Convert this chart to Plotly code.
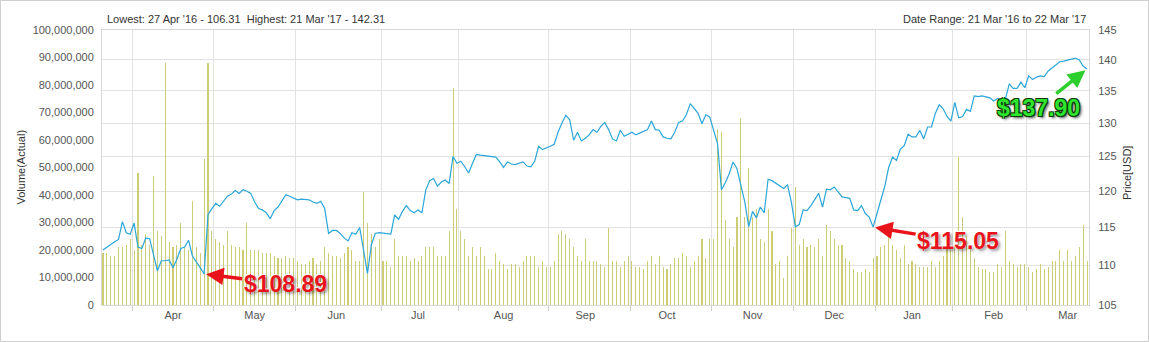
import math
import pandas as pd
import plotly.graph_objects as go

# ---------------- data ----------------
START, END = "2016-03-21", "2017-03-22"
HOLIDAYS = ["2016-03-25", "2016-05-30", "2016-07-04", "2016-09-05", "2016-11-24",
            "2016-12-26", "2017-01-02", "2017-01-16", "2017-02-20"]

PRICE_MAR16 = [112.0, 112.4, 112.8, 113.1, 113.4, 115.8, 114.3, 114.1]
PRICE_APR16 = [115.6, 112.4, 112.2, 113.6, 113.5, 111.2, 109.3, 110.6, 110.6, 110.7, 109.7,
               110.8, 112.2, 112.4, 113.3, 111.2, 110.5, 109.7, 108.89, 116.73, 117.58]
PRICE_MAY16 = [118.3, 117.9, 118.6, 119.3, 119.6, 120.1, 119.7, 120.2, 120.0, 119.7, 118.5,
               117.6, 117.4, 117.0, 116.2, 117.3, 117.8, 118.6, 119.5, 119.3, 119.0]
PRICE_JUN16 = [118.8, 118.9, 118.9, 118.8, 118.5, 118.3, 118.6, 117.6, 114.2, 114.6, 114.6,
               114.2, 113.6, 113.2, 114.3, 114.1, 115.0, 112.1, 108.97, 112.7, 114.2, 114.3]
PRICE_JUL16 = [114.2, 114.2, 114.1, 116.7, 116.1, 117.2, 118.0, 117.3, 117.0, 117.4, 117.0,
               120.2, 121.5, 121.8, 120.7, 121.3, 121.6, 121.1, 125.0, 124.0]
PRICE_AUG16 = [124.3, 123.5, 122.6, 124.0, 125.3, 125.2, 125.1, 125.0, 124.96, 124.9, 124.2,
               123.4, 124.2, 123.9, 123.8, 124.0, 124.2, 123.6, 123.5, 124.3, 126.5, 126.0, 126.2]
PRICE_SEP16 = [126.5, 126.8, 128.6, 130.0, 131.2, 130.5, 127.4, 128.6, 127.3, 127.7, 128.2,
               129.0, 128.6, 129.5, 130.1, 129.0, 127.6, 127.3, 128.9, 128.0, 128.3]
PRICE_OCT16 = [128.6, 128.2, 128.5, 128.8, 129.0, 130.3, 129.0, 128.9, 127.9, 127.7, 127.6,
               128.6, 130.1, 130.3, 131.3, 133.0, 132.3, 131.5, 129.9, 131.3, 130.9]
PRICE_NOV16 = [129.0, 126.9, 120.2, 121.2, 122.5, 124.2, 123.2, 120.8, 118.5, 115.1, 117.2,
               116.3, 117.8, 117.0, 121.7, 121.5, 121.1, 120.8, 120.4, 120.9, 118.4]
PRICE_DEC16 = [115.1, 115.4, 117.4, 117.3, 118.0, 118.9, 119.7, 117.8, 120.3, 120.2, 120.6,
               119.9, 119.2, 119.1, 119.0, 117.4, 117.3, 118.0, 116.9, 116.4, 115.05]
PRICE_JAN17 = [116.9, 118.7, 120.7, 123.4, 124.9, 124.4, 126.1, 126.6, 128.3, 127.9, 127.9,
               128.9, 127.6, 129.4, 129.4, 131.5, 132.8, 132.2, 131.0, 130.3]
PRICE_FEB17 = [133.2, 130.8, 131.0, 132.1, 131.8, 134.2, 134.1, 134.2, 134.1, 133.9, 133.4,
               133.8, 133.5, 133.7, 136.1, 135.4, 135.4, 136.4, 135.5]
PRICE_MAR17 = [137.4, 136.8, 137.2, 137.4, 137.3, 138.2, 138.7, 139.2, 139.7, 139.8, 140.0,
               140.2, 140.3, 140.0, 139.0, 138.5]

# volume in millions of shares
VOL_MAR16 = [19, 19, 18, 18, 21, 21, 22, 24]
VOL_APR16 = [20, 48, 22, 26, 22, 47, 27, 25, 88, 23, 21, 22, 30, 21, 20, 38, 21, 19, 53, 88, 27]
VOL_MAY16 = [24, 23, 22, 27, 22, 21, 21, 20, 30, 20, 20, 20, 19, 19, 19, 18, 17, 17, 18, 17, 17]
VOL_JUN16 = [16, 15, 15, 16, 17, 15, 16, 21, 19, 18, 18, 17, 19, 21, 20, 16, 16, 41, 30, 26, 21, 24]
VOL_JUL16 = [16, 16, 14, 24, 18, 18, 18, 16, 17, 16, 18, 21, 21, 21, 18, 18, 18, 27, 79, 35]
VOL_AUG16 = [27, 24, 18, 21, 18, 21, 18, 13, 13, 19, 16, 15, 13, 15, 15, 14, 16, 18, 18, 18, 14, 16, 14]
VOL_SEP16 = [14, 16, 26, 27, 26, 24, 21, 18, 16, 24, 16, 16, 16, 15, 14, 28, 16, 16, 14, 16, 18]
VOL_OCT16 = [16, 14, 14, 13, 16, 18, 15, 18, 14, 13, 15, 17, 17, 19, 18, 14, 16, 18, 24, 17, 24]
VOL_NOV16 = [24, 64, 63, 31, 24, 21, 32, 68, 32, 50, 32, 35, 24, 23, 35, 27, 15, 16, 10, 18, 28]
VOL_DEC16 = [43, 22, 24, 21, 22, 21, 24, 18, 29, 27, 24, 22, 22, 17, 16, 13, 12, 12, 13, 12, 17]
VOL_JAN17 = [18, 21, 22, 25, 22, 20, 17, 22, 15, 16, 15, 14, 14, 14, 16, 14, 16, 18, 21, 20]
VOL_FEB17 = [21, 54, 32, 25, 21, 17, 14, 13, 13, 12, 12, 15, 14, 27, 16, 15, 14, 15, 15]
VOL_MAR17 = [14, 12, 13, 15, 13, 14, 16, 16, 20, 16, 20, 16, 18, 21, 29, 16]

MONTH_STARTS = ["2016-04-01", "2016-05-02", "2016-06-01", "2016-07-01", "2016-08-01",
                "2016-09-01", "2016-10-03", "2016-11-01", "2016-12-01", "2017-01-03",
                "2017-02-01", "2017-03-01"]
MONTH_LABEL_DATES = ["2016-04-15 12:00", "2016-05-16 12:00", "2016-06-15 12:00",
                     "2016-07-15 12:00", "2016-08-16 12:00", "2016-09-15 12:00",
                     "2016-10-14 12:00", "2016-11-15 12:00", "2016-12-15 12:00",
                     "2017-01-17 12:00", "2017-02-15 12:00", "2017-03-15 12:00"]
MONTH_LABELS = ["Apr", "May", "Jun", "Jul", "Aug", "Sep", "Oct", "Nov", "Dec", "Jan", "Feb", "Mar"]

VOL_TICKS = [0, 10e6, 20e6, 30e6, 40e6, 50e6, 60e6, 70e6, 80e6, 90e6, 100e6]
PRICE_TICKS = [105, 110, 115, 120, 125, 130, 135, 140, 145]

CALLOUTS = [  # (date, price, label)
    ("2016-04-27", 108.89, "$108.89"),
    ("2016-12-30", 115.05, "$115.05"),
    ("2017-03-22", 138.5, "$137.90"),
]

TOP_LEFT = "Lowest: 27 Apr '16 - 106.31\u00a0\u00a0Highest: 21 Mar '17 - 142.31"
TOP_RIGHT = "Date Range: 21 Mar '16 to 22 Mar '17"

# ---------------- build ----------------
HALF_DAY = pd.Timedelta(hours=12)
dates = [d + HALF_DAY for d in pd.bdate_range(START, END)
         if d.strftime("%Y-%m-%d") not in HOLIDAYS]
price = (PRICE_MAR16 + PRICE_APR16 + PRICE_MAY16 + PRICE_JUN16 + PRICE_JUL16 + PRICE_AUG16 +
         PRICE_SEP16 + PRICE_OCT16 + PRICE_NOV16 + PRICE_DEC16 + PRICE_JAN17 + PRICE_FEB17 +
         PRICE_MAR17)
vol_m = (VOL_MAR16 + VOL_APR16 + VOL_MAY16 + VOL_JUN16 + VOL_JUL16 + VOL_AUG16 + VOL_SEP16 +
         VOL_OCT16 + VOL_NOV16 + VOL_DEC16 + VOL_JAN17 + VOL_FEB17 + VOL_MAR17)
volume = [v * 1e6 for v in vol_m]
assert len(dates) == len(price) == len(volume), (len(dates), len(price), len(volume))

DAY_MS = 86400000
FONT = "Liberation Sans, Arial, sans-serif"

fig = go.Figure()
# very thin opaque bars: plotly expands each one to a single pixel column
fig.add_trace(go.Bar(
    x=dates, y=volume, yaxis="y", width=0.02 * DAY_MS,
    marker=dict(color="#cdcd74", line=dict(width=0)), name="Volume",
))
fig.add_trace(go.Scatter(
    x=dates, y=price, yaxis="y2", mode="lines",
    line=dict(color="#2aa6d8", width=1.2), name="Price",
))

PW, PH = 1149 - 102 - 60, 342 - 30 - 37

annotations = [
    dict(text=TOP_LEFT, xref="paper", yref="paper", x=3 / PW, y=1 + 11 / PH,
         xanchor="left", yanchor="middle", showarrow=False,
         font=dict(family=FONT, size=11, color="#333")),
    dict(text=TOP_RIGHT, xref="paper", yref="paper", x=1 - 1 / PW, y=1 + 11 / PH,
         xanchor="right", yanchor="middle", showarrow=False,
         font=dict(family=FONT, size=11, color="#333")),
    dict(text="Volume(Actual)", xref="paper", yref="paper", x=-82 / PW, y=0.5,
         textangle=-90, showarrow=False, xanchor="center", yanchor="middle",
         font=dict(family=FONT, size=11, color="#333")),
    dict(text="Price[USD]", xref="paper", yref="paper", x=1 + 38 / PW, y=0.48,
         textangle=-90, showarrow=False, xanchor="center", yanchor="middle",
         font=dict(family=FONT, size=11, color="#333")),
]

offsets = [(81, 10), (85, 14), (-49, 39)]
for (d, p, label), (ax, ay) in zip(CALLOUTS, offsets):
    green = label == "$137.90"
    col = "#2fe62f" if green else "#e8131b"
    arrow_col = "#2ccf2c" if green else "#e8131b"
    shadow = ("-1px -1px 0 #0a3a0a, 1px -1px 0 #0a3a0a, -1px 1px 0 #0a3a0a, "
              "1px 1px 0 #0a3a0a, 2px 2px 3px #444") if green else \
        "-1px -1px 0 #fff, 2px 2px 3px rgba(0,0,0,0.4)"
    annotations.append(dict(
        x=pd.Timestamp(d) + HALF_DAY, y=math.log10(p), xref="x", yref="y2",
        text=label, showarrow=True, ax=ax, ay=ay, axref="pixel", ayref="pixel",
        arrowhead=2, arrowsize=1, arrowwidth=3.5, arrowcolor=arrow_col, standoff=2,
        font=dict(family=FONT, size=23, color=col, weight="bold", shadow=shadow),
    ))

fig.update_layout(
    width=1149, height=342,
    margin=dict(l=102, r=60, t=30, b=37, pad=0),
    paper_bgcolor="white", plot_bgcolor="white",
    showlegend=False, bargap=0,
    font=dict(family=FONT, size=11, color="#555"),
    xaxis=dict(
        type="date",
        range=["2016-03-21 06:00", "2017-03-23 00:00"],
        rangebreaks=[dict(bounds=["sat", "mon"]), dict(values=HOLIDAYS)],
        tickmode="array", tickvals=MONTH_LABEL_DATES, ticktext=MONTH_LABELS,
        ticks="", showgrid=False, zeroline=False,
        showline=True, linecolor="#d8d8d8", mirror=True,
        tickfont=dict(family=FONT, size=11, color="#555"),
        minor=dict(tickmode="array", tickvals=MONTH_STARTS, showgrid=True,
                   gridcolor="#e2e2e2", gridwidth=1, ticks="outside", ticklen=5,
                   tickcolor="#cccccc"),
    ),
    yaxis=dict(
        range=[0, 100e6], tickmode="array", tickvals=VOL_TICKS, tickformat=",",
        showgrid=False, zeroline=False, showline=True, linecolor="#d8d8d8",
        ticks="", ticklabelstandoff=5,
        tickfont=dict(family=FONT, size=11, color="#555"),
    ),
    yaxis2=dict(
        type="log", range=[math.log10(105), math.log10(145)], overlaying="y", side="right",
        tickmode="array", tickvals=PRICE_TICKS, ticktext=[str(t) for t in PRICE_TICKS],
        showgrid=True, gridcolor="#e2e2e2", gridwidth=1, zeroline=False,
        showline=True, linecolor="#d8d8d8", ticks="", ticklabelstandoff=6,
        tickfont=dict(family=FONT, size=11, color="#555"),
    ),
    annotations=annotations,
    shapes=[dict(type="rect", xref="paper", yref="paper",
                 x0=-101.5 / PW, x1=1 + 59.5 / PW, y0=-36.5 / PH, y1=1 + 29.5 / PH,
                 line=dict(color="#cfcfcf", width=1), fillcolor="rgba(0,0,0,0)",
                 layer="below")],
)

fig.write_html("out.html")
